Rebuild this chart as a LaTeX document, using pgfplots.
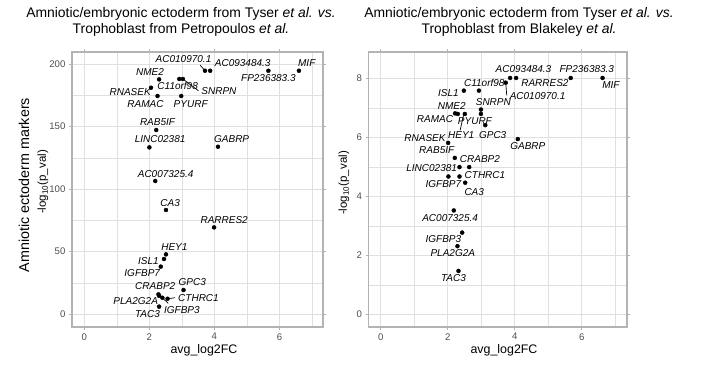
\documentclass[border=0pt]{standalone}
\usepackage{fontspec}
\setmainfont{Liberation Sans}
\usepackage{pgfplots}
\usepackage{pgfplotstable}
\pgfplotsset{compat=1.18}
\definecolor{gridc}{HTML}{E0E0E0}
\definecolor{framec}{HTML}{B3B3B3}
\definecolor{tickc}{HTML}{4D4D4D}

\pgfplotstableread{
gene x y
AC010970.1 3.71 194.6
AC093484.3 3.87 194.6
FP236383.3 5.66 194.6
MIF 6.60 194.6
NME2 2.30 187.7
C11orf98 2.92 188.0
SNRPN 3.03 188.0
RNASEK 2.05 181.0
RAMAC 2.25 174.4
PYURF 2.98 174.4
RAB5IF 2.21 147.2
LINC02381 2.00 133.3
GABRP 4.11 133.8
AC007325.4 2.18 106.4
CA3 2.51 83.2
RARRES2 3.99 69.3
HEY1 2.51 47.7
ISL1 2.45 44.0
IGFBP7 2.35 37.9
GPC3 3.05 19.2
CRABP2 2.28 15.7
PLA2G2A 2.30 14.5
IGFBP3 2.40 13.0
CTHRC1 2.56 12.2
TAC3 2.30 5.9
}\petro

\pgfplotstableread{
gene x y
AC093484.3 3.86 8.02
RARRES2 4.04 8.02
FP236383.3 5.67 8.02
MIF 6.62 8.02
AC010970.1 3.73 7.86
C11orf98 2.93 7.59
ISL1 2.48 7.59
SNRPN 2.99 6.95
PYURF 2.99 6.80
NME2 2.22 6.82
RAMAC 2.30 6.80
HEY1 2.51 6.80
GPC3 3.12 6.42
GABRP 4.09 5.95
RNASEK 2.01 5.82
CRABP2 2.21 5.31
LINC02381 2.35 5.00
CTHRC1 2.64 5.00
RAB5IF 2.02 4.68
IGFBP7 2.35 4.68
CA3 2.52 4.47
AC007325.4 2.18 3.53
IGFBP3 2.43 2.78
PLA2G2A 2.29 2.32
TAC3 2.32 1.48
}\blake

\tikzset{gl/.style={font=\itshape\fontsize{10}{11}\selectfont, inner sep=0pt}}
\pgfplotsset{
  panel/.style={
    scale only axis,
    height=275pt,
    xmin=-0.38, xmax=7.34,
    xtick={0,2,4,6}, minor xtick={1,3,5,7},
    grid=both,
    major grid style={color=gridc, line width=0.6pt},
    minor grid style={color=gridc, line width=0.35pt},
    axis line style={color=framec, line width=1.2pt},
    tick style={color=framec, line width=0.6pt},
    tick align=outside,
    major tick length=2.8pt,
    minor tick length=0pt,
    ticklabel style={font=\fontsize{9.6}{11}\selectfont, text=tickc},
    /pgf/number format/assume math mode=true,
    xticklabel style={yshift=0pt},
    yticklabel style={xshift=-0.3pt},
    clip=false,
  },
}

\begin{document}
\begin{tikzpicture}[x=1pt,y=1pt]
\path[use as bounding box] (0,0) rectangle (703,364);

% titles
\node[anchor=base, font=\fontsize{13.9}{15}\selectfont] at (181,346.7) {Amniotic/embryonic ectoderm from Tyser \textit{et al. vs.}};
\node[anchor=base, font=\fontsize{13.9}{15}\selectfont] at (181,330.7) {Trophoblast from Petropoulos \textit{et al.}};
\node[anchor=base, font=\fontsize{13.9}{15}\selectfont] at (519,346.7) {Amniotic/embryonic ectoderm from Tyser \textit{et al. vs.}};
\node[anchor=base, font=\fontsize{13.9}{15}\selectfont] at (519,330.7) {Trophoblast from Blakeley \textit{et al.}};

% y labels
\node[rotate=90, font=\fontsize{14.3}{16}\selectfont] at (24,179) {Amniotic ectoderm markers};
\node[rotate=90, font=\fontsize{11.5}{13}\selectfont] at (43,182) {-log\textsubscript{10}(p\_val)};
\node[rotate=90, font=\fontsize{11.5}{13}\selectfont] at (344,181) {-log\textsubscript{10}(p\_val)};
% x labels
\node[font=\fontsize{12.4}{14}\selectfont] at (204,14) {avg\_log2FC};
\node[font=\fontsize{12.4}{14}\selectfont] at (504,14) {avg\_log2FC};

% ---------- left panel ----------
\begin{axis}[panel, at={(72pt,37pt)}, anchor=south west, width=251pt,
  ymin=-10.4, ymax=209.6, ytick={0,50,100,150,200}, minor ytick={25,75,125,175}]
\addplot[black, line width=0.7pt, forget plot] coordinates {(3.71,194.6) (3.56,199.2)};
\addplot[black, line width=0.7pt, forget plot] coordinates {(3.03,188) (3.51,178.6)};
\addplot[black, line width=0.7pt, forget plot] coordinates {(2.40,13.0) (2.58,8.5)};
\addplot[black, line width=0.7pt, forget plot] coordinates {(2.56,12.2) (2.79,13.0)};
\addplot[only marks, mark=*, mark size=2pt, black] table[x=x, y=y] {\petro};
\node[gl] at (axis cs:3.05,204) {AC010970.1};
\node[gl] at (axis cs:4.87,200.5) {AC093484.3};
\node[gl] at (axis cs:6.84,200.5) {MIF};
\node[gl] at (axis cs:5.66,189) {FP236383.3};
\node[gl] at (axis cs:2.02,193.3) {NME2};
\node[gl] at (axis cs:2.87,182.6) {C11orf98};
\node[gl] at (axis cs:4.14,178.4) {SNRPN};
\node[gl] at (axis cs:1.41,177.9) {RNASEK};
\node[gl] at (axis cs:1.88,168.2) {RAMAC};
\node[gl] at (axis cs:3.27,168.2) {PYURF};
\node[gl] at (axis cs:2.25,153.6) {RAB5IF};
\node[gl] at (axis cs:2.33,139.8) {LINC02381};
\node[gl] at (axis cs:4.53,139.8) {GABRP};
\node[gl] at (axis cs:2.50,112) {AC007325.4};
\node[gl] at (axis cs:2.64,89) {CA3};
\node[gl] at (axis cs:4.30,75.2) {RARRES2};
\node[gl] at (axis cs:2.77,53.3) {HEY1};
\node[gl] at (axis cs:1.97,42.7) {ISL1};
\node[gl] at (axis cs:1.78,33) {IGFBP7};
\node[gl] at (axis cs:2.18,22.4) {CRABP2};
\node[gl] at (axis cs:3.32,25.8) {GPC3};
\node[gl] at (axis cs:3.51,13) {CTHRC1};
\node[gl] at (axis cs:1.58,10.6) {PLA2G2A};
\node[gl] at (axis cs:3.00,3.2) {IGFBP3};
\node[gl] at (axis cs:1.94,0) {TAC3};
\end{axis}

% ---------- right panel ----------
\begin{axis}[panel, at={(368.7pt,37pt)}, anchor=south west, width=258.3pt,
  xmin=-0.36, xmax=7.35,
  ymin=-0.42, ymax=8.90, ytick={0,2,4,6,8}, minor ytick={1,3,5,7}]
\addplot[black, line width=0.7pt, forget plot] coordinates {(3.73,7.86) (3.76,7.43)};
\addplot[black, line width=0.7pt, forget plot] coordinates {(2.47,6.76) (2.37,6.25)};
\addplot[only marks, mark=*, mark size=2pt, black] table[x=x, y=y] {\blake};
\node[gl] at (axis cs:4.26,8.31) {AC093484.3};
\node[gl] at (axis cs:6.15,8.31) {FP236383.3};
\node[gl] at (axis cs:4.90,7.85) {RARRES2};
\node[gl] at (axis cs:6.87,7.77) {MIF};
\node[gl] at (axis cs:3.09,7.86) {C11orf98};
\node[gl] at (axis cs:4.68,7.40) {AC010970.1};
\node[gl] at (axis cs:2.02,7.51) {ISL1};
\node[gl] at (axis cs:3.36,7.21) {SNRPN};
\node[gl] at (axis cs:2.12,7.06) {NME2};
\node[gl] at (axis cs:1.62,6.62) {RAMAC};
\node[gl] at (axis cs:2.81,6.56) {PYURF};
\node[gl] at (axis cs:2.40,6.10) {HEY1};
\node[gl] at (axis cs:3.34,6.10) {GPC3};
\node[gl] at (axis cs:1.32,6.00) {RNASEK};
\node[gl] at (axis cs:4.39,5.70) {GABRP};
\node[gl] at (axis cs:1.67,5.57) {RAB5IF};
\node[gl] at (axis cs:2.96,5.28) {CRABP2};
\node[gl] at (axis cs:1.52,4.97) {LINC02381};
\node[gl] at (axis cs:3.11,4.74) {CTHRC1};
\node[gl] at (axis cs:1.87,4.44) {IGFBP7};
\node[gl] at (axis cs:2.79,4.15) {CA3};
\node[gl] at (axis cs:2.07,3.28) {AC007325.4};
\node[gl] at (axis cs:1.87,2.57) {IGFBP3};
\node[gl] at (axis cs:2.15,2.09) {PLA2G2A};
\node[gl] at (axis cs:2.17,1.25) {TAC3};
\end{axis}
\end{tikzpicture}
\end{document}
